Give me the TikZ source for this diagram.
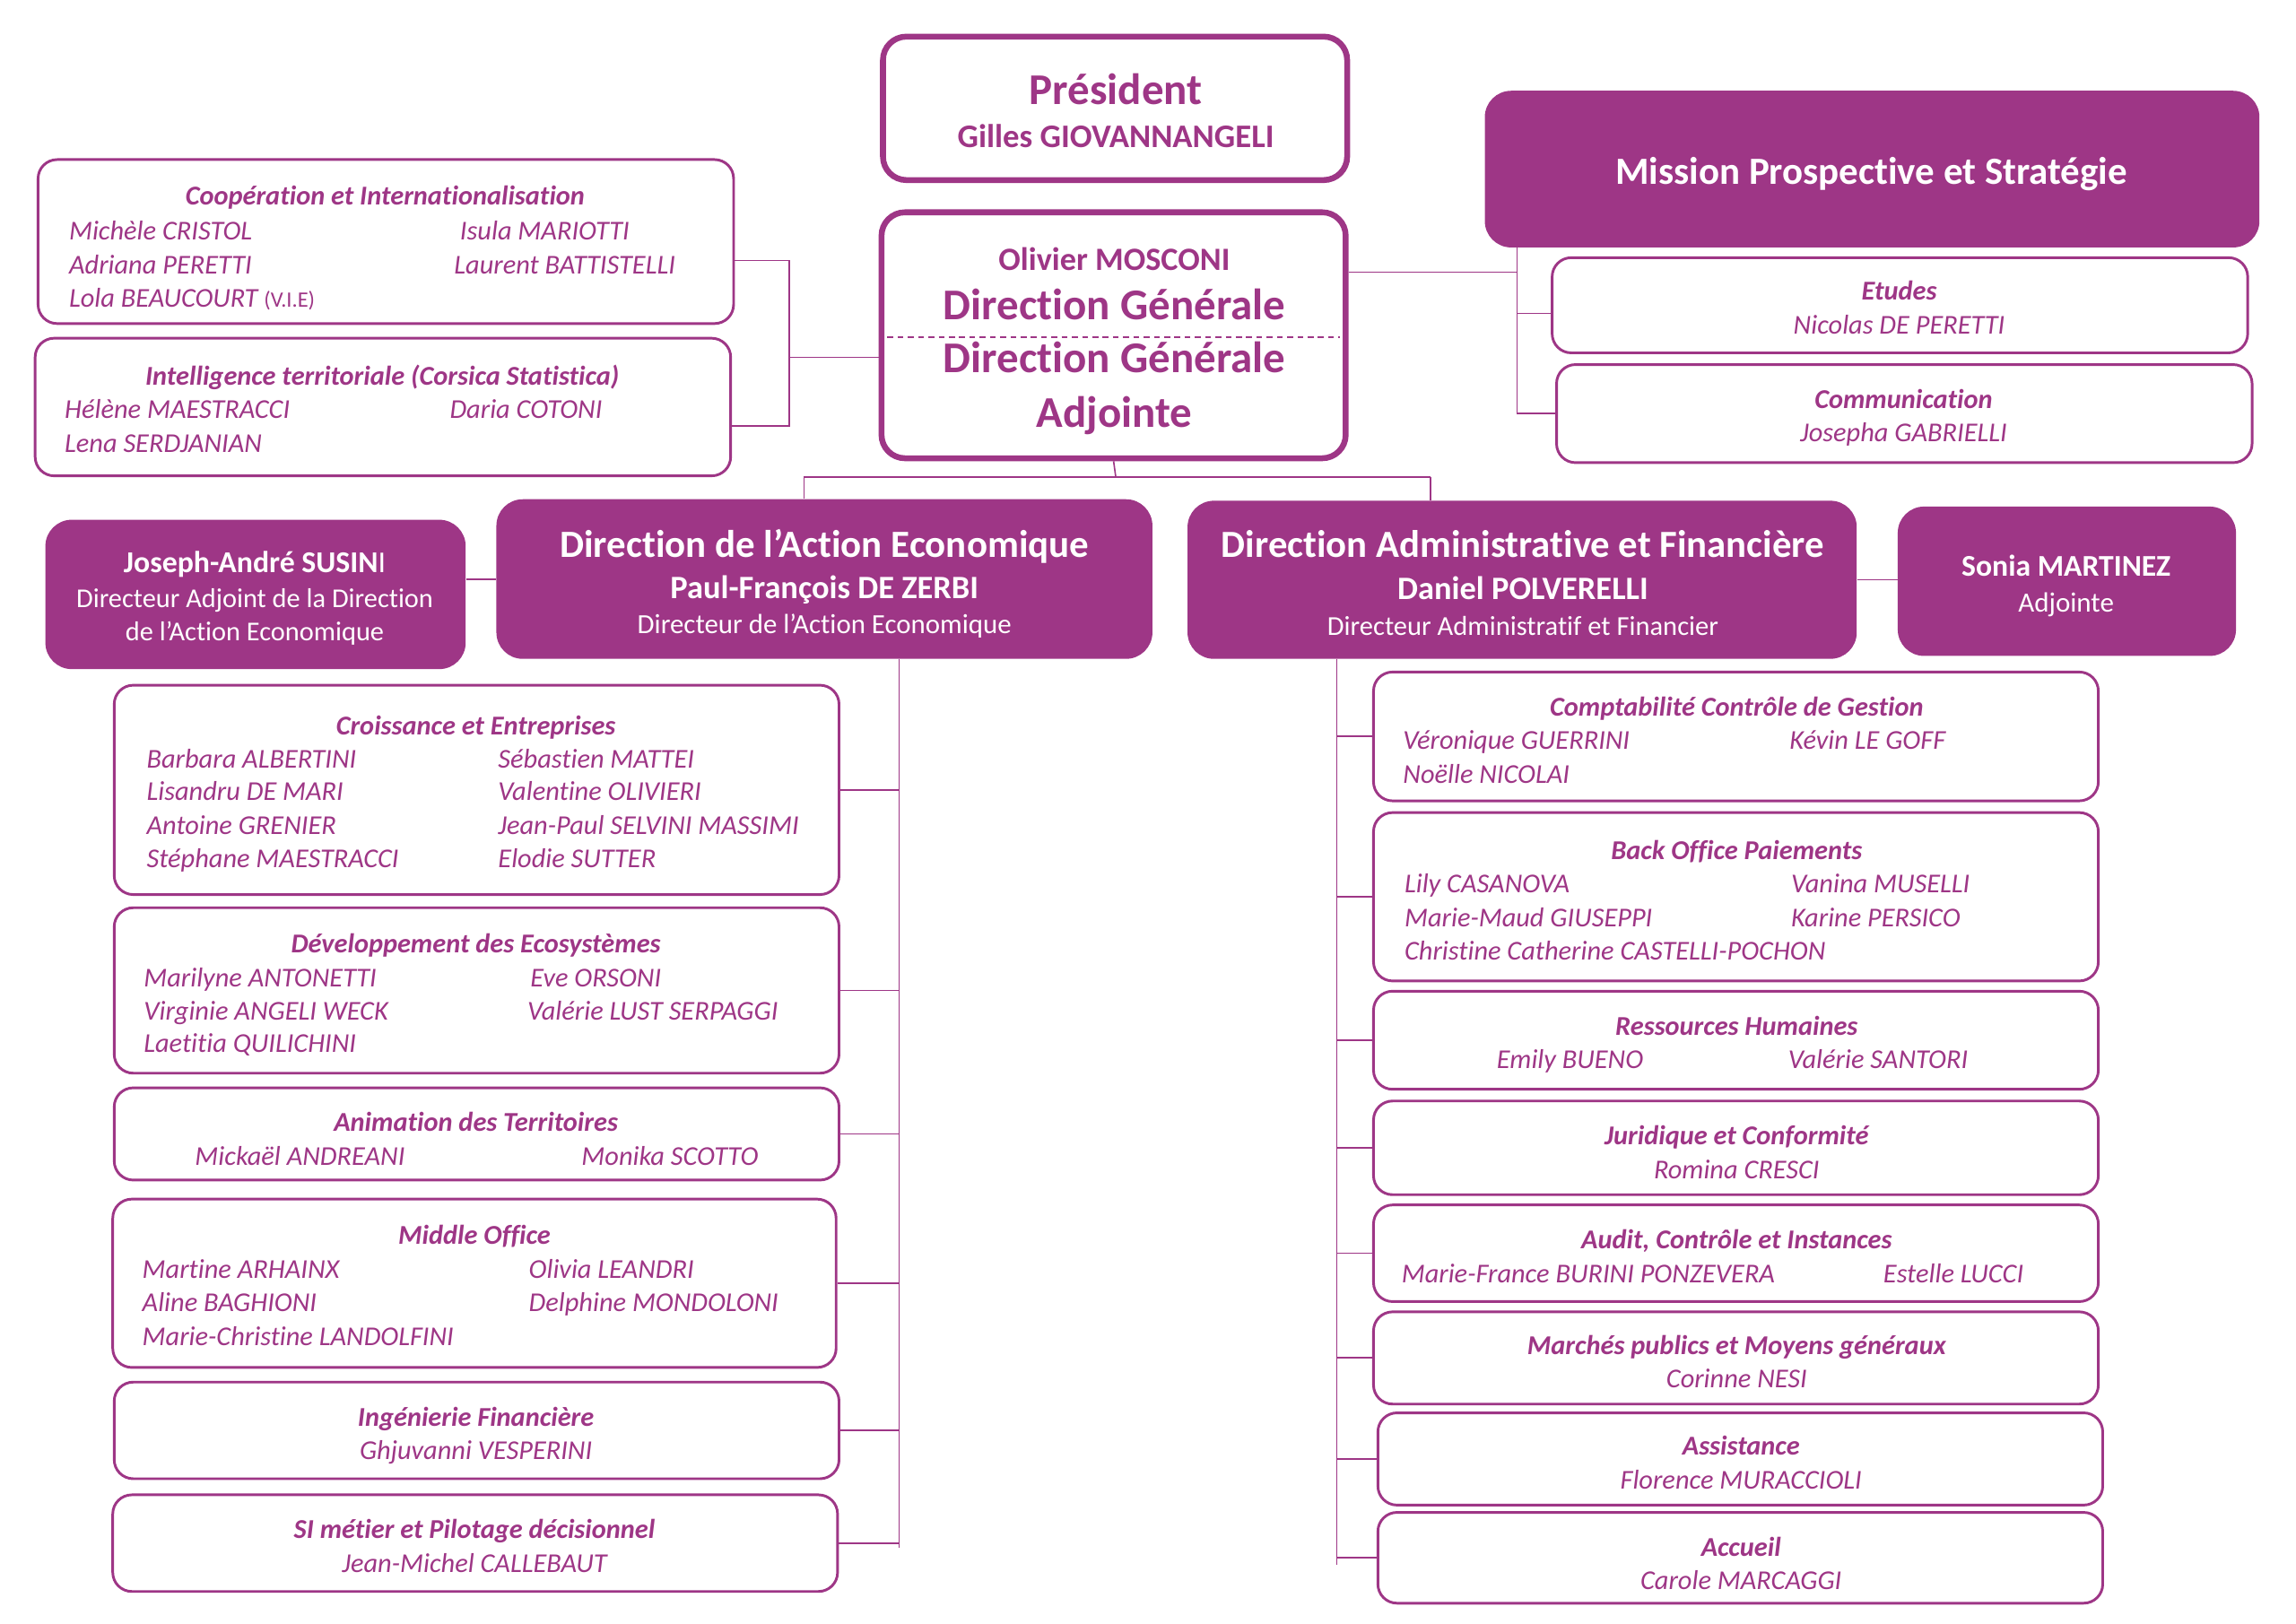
\documentclass[tikz,border=0pt]{standalone}
\usepackage{fontspec}
\setmainfont{Carlito}[Ligatures=NoCommon]
\usetikzlibrary{fit}
\definecolor{pur}{HTML}{9E3686}
\newcommand\myfs[1]{\fontsize{#1}{#1}\selectfont}
\begin{document}
\begin{tikzpicture}[x=1pt,y=-1pt,
  pbox/.style={draw=pur,line width=4pt,rounded corners=16pt,fill=white,inner sep=0pt},
  sbox/.style={draw=pur,line width=1.8pt,rounded corners=13pt,fill=white,inner sep=0pt},
  fbox/.style={fill=pur,rounded corners=18pt,inner sep=0pt},
  conn/.style={draw=pur,line width=1pt},
  ttl/.style={text=pur,font=\myfs{18.6}\bfseries\itshape,anchor=mid,inner sep=0pt,yshift=-4.5pt},
  nm/.style={text=pur,font=\myfs{18.6}\itshape,anchor=mid west,inner sep=0pt,yshift=-4.5pt},
  nmc/.style={text=pur,font=\myfs{18.6}\itshape,anchor=mid,inner sep=0pt,yshift=-4.5pt},
  wt/.style={text=white,anchor=mid,inner sep=0pt,font=\myfs{#1},yshift=-0.24*#1},
  wtb/.style={text=white,anchor=mid,inner sep=0pt,font=\myfs{#1}\bfseries,yshift=-0.24*#1},
  ptb/.style={text=pur,anchor=mid,inner sep=0pt,font=\myfs{#1}\bfseries,yshift=-0.24*#1}]
\useasboundingbox (0,0) rectangle (1568,1109);

% ---------- top ----------
\node[pbox,fit={(603,25)(920,123)}] (pres) {};
\node[ptb=30] (presT) at (762,62) {Président};
\node[ptb=22.5] (presN) at (762,93) {Gilles GIOVANNANGELI};

\node[pbox,fit={(602,145)(919,313)}] (dg) {};
\node[ptb=22.2] (dgN) at (761,177) {Olivier MOSCONI};
\node[ptb=30] (dgT1) at (761,209) {Direction Générale};
\coordinate (dsA) at (606,230);
\coordinate (dsB) at (915,230);
\draw[pur,line width=1.2pt,dash pattern=on 4pt off 3pt] (dsA) -- (dsB);
\node[ptb=30] (dgT2) at (761,245) {Direction Générale};
\node[ptb=30] (dgT3) at (761,282) {Adjointe};

% ---------- left group ----------
\node[sbox,fit={(26,109)(501,221)}] (coop) {};
\node[ttl] (coopT) at (263,133) {Coopération et Internationalisation};
\node[nm] (c1) at (47,157) {Michèle CRISTOL};
\node[nm] (c2) at (47,180) {Adriana PERETTI};
\node[nm] (c3) at (47,203) {Lola BEAUCOURT {\upshape\myfs{15}(V.I.E)}};
\node[nm] (c4) at (314,157) {Isula MARIOTTI};
\node[nm] (c5) at (310,180) {Laurent BATTISTELLI};

\node[sbox,fit={(24,231)(499,325)}] (intel) {};
\node[ttl] (intelT) at (261,256) {Intelligence territoriale (Corsica Statistica)};
\node[nm] (i1) at (44,279) {Hélène MAESTRACCI};
\node[nm] (i2) at (44,302) {Lena SERDJANIAN};
\node[nm] (i3) at (307,279) {Daria COTONI};

\coordinate (jlt) at (539,178);
\coordinate (jlb) at (539,291);
\coordinate (jl) at (539,244);
\draw[conn] (coop.east |- jlt) -- (jlt) -- (jlb) -- (intel.east |- jlb);
\draw[conn] (jl) -- (dg.west |- jl);

% ---------- right group ----------
\node[fbox,fit={(1014,62)(1543,169)}] (mps) {};
\node[wtb=26.3] (mpsT) at (1278,117) {Mission Prospective et Stratégie};

\node[sbox,fit={(1060,176)(1535,241)}] (etud) {};
\node[ttl] (etudT) at (1297,198) {Etudes};
\node[nmc] (e1) at (1297,221) {Nicolas DE PERETTI};

\node[sbox,fit={(1063,249)(1538,316)}] (comm) {};
\node[ttl] (commT) at (1300,272) {Communication};
\node[nmc] (m1) at (1300,295) {Josepha GABRIELLI};

\coordinate (jr) at (1036,186);
\coordinate (jre) at (1036,214);
\draw[conn] (dg.east |- jr) -- (jr);
\draw[conn] (jr |- mps.south) -- (jr |- comm.west) -- (comm.west);
\draw[conn] (jre) -- (etud.west |- jre);

% ---------- directions ----------
\node[fbox,fit={(339,341)(787,450)}] (dae) {};
\node[wtb=26.3] (daeT) at (563,372) {Direction de l’Action Economique};
\node[wtb=22.3] (daeN) at (563,401) {Paul-François DE ZERBI};
\node[wt=18.9] (daeF) at (563,426) {Directeur de l’Action Economique};

\node[fbox,fit={(31,355)(318,457)}] (sus) {};
\node[wt=20.7] (susN) at (174,384) {\textbf{Joseph-André SUSIN}I};
\node[wt=18.6] (susF1) at (174,408) {Directeur Adjoint de la Direction};
\node[wt=18.6] (susF2) at (174,431) {de l’Action Economique};

\node[fbox,fit={(811,342)(1268,450)}] (daf) {};
\node[wtb=26.2] (dafT) at (1040,372) {Direction Administrative et Financière};
\node[wtb=22.3] (dafN) at (1040,402) {Daniel POLVERELLI};
\node[wt=18.7] (dafF) at (1040,427) {Directeur Administratif et Financier};

\node[fbox,fit={(1296,346)(1527,448)}] (son) {};
\node[wtb=20.6] (sonN) at (1411,386) {Sonia MARTINEZ};
\node[wt=19] (sonF) at (1411,411) {Adjointe};

\coordinate (jc) at (762,326);
\coordinate (jcl) at (549,326);
\coordinate (jcr) at (977,326);
\draw[conn] (dg.south) -- (jc);
\draw[conn] (jcl) -- (jcr);
\draw[conn] (jcl) -- (jcl |- dae.north);
\draw[conn] (jcr) -- (jcr |- daf.north);
\draw[conn] (dae.west) -- (dae.west -| sus.east);
\draw[conn] (daf.east) -- (daf.east -| son.west);

% ---------- DAE children ----------
\node[sbox,fit={(78,468)(573,611)}] (cro) {};
\node[ttl] (croT) at (325,495) {Croissance et Entreprises};
\node[nm] at (100,518) {Barbara ALBERTINI};
\node[nm] at (100,540) {Lisandru DE MARI};
\node[nm] at (100,563) {Antoine GRENIER};
\node[nm] at (100,586) {Stéphane MAESTRACCI};
\node[nm] at (340,518) {Sébastien MATTEI};
\node[nm] at (340,540) {Valentine OLIVIERI};
\node[nm] at (340,563) {Jean-Paul SELVINI MASSIMI};
\node[nm] at (340,586) {Elodie SUTTER};

\node[sbox,fit={(78,620)(573,733)}] (dev) {};
\node[ttl] (devT) at (325,644) {Développement des Ecosystèmes};
\node[nm] at (98,667) {Marilyne ANTONETTI};
\node[nm] at (98,690) {Virginie ANGELI WECK};
\node[nm] at (98,712) {Laetitia QUILICHINI};
\node[nm] at (362,667) {Eve ORSONI};
\node[nm] at (360,690) {Valérie LUST SERPAGGI};

\node[sbox,fit={(78,743)(573,806)}] (ani) {};
\node[ttl] (aniT) at (325,766) {Animation des Territoires};
\node[nm] at (133,789) {Mickaël ANDREANI};
\node[nm] at (397,789) {Monika SCOTTO};

\node[sbox,fit={(77,819)(571,934)}] (mid) {};
\node[ttl] (midT) at (324,843) {Middle Office};
\node[nm] at (97,866) {Martine ARHAINX};
\node[nm] at (97,889) {Aline BAGHIONI};
\node[nm] at (97,912) {Marie-Christine LANDOLFINI};
\node[nm] at (361,866) {Olivia LEANDRI};
\node[nm] at (361,889) {Delphine MONDOLONI};

\node[sbox,fit={(78,944)(573,1010)}] (ing) {};
\node[ttl] (ingT) at (325,967) {Ingénierie Financière};
\node[nmc] at (325,990) {Ghjuvanni VESPERINI};

\node[sbox,fit={(77,1021)(572,1087)}] (sim) {};
\node[ttl] (simT) at (324,1044) {SI métier et Pilotage décisionnel};
\node[nmc] at (324,1067) {Jean-Michel CALLEBAUT};

\coordinate (sl) at (614,1057);
\draw[conn] (sl |- dae.south) -- (sl);
\foreach \b in {cro,dev,ani,mid,ing,sim}{\draw[conn] (\b.east) -- (\b.east -| sl);}

% ---------- DAF children ----------
\node[sbox,fit={(938,459)(1433,547)}] (cpt) {};
\node[ttl] (cptT) at (1186,482) {Comptabilité Contrôle de Gestion};
\node[nm] at (958,505) {Véronique GUERRINI};
\node[nm] at (958,528) {Noëlle NICOLAI};
\node[nm] at (1222,505) {Kévin LE GOFF};

\node[sbox,fit={(938,555)(1433,670)}] (bo) {};
\node[ttl] (boT) at (1186,580) {Back Office Paiements};
\node[nm] at (959,603) {Lily CASANOVA};
\node[nm] at (959,626) {Marie-Maud GIUSEPPI};
\node[nm] at (959,649) {Christine Catherine CASTELLI-POCHON};
\node[nm] at (1223,603) {Vanina MUSELLI};
\node[nm] at (1223,626) {Karine PERSICO};

\node[sbox,fit={(938,677)(1433,744)}] (rh) {};
\node[ttl] (rhT) at (1186,700) {Ressources Humaines};
\node[nm] at (1022,723) {Emily BUENO};
\node[nm] at (1221,723) {Valérie SANTORI};

\node[sbox,fit={(938,752)(1433,816)}] (jur) {};
\node[ttl] (jurT) at (1186,775) {Juridique et Conformité};
\node[nmc] at (1186,798) {Romina CRESCI};

\node[sbox,fit={(938,823)(1433,889)}] (aud) {};
\node[ttl] (audT) at (1186,846) {Audit, Contrôle et Instances};
\node[nm] at (957,869) {Marie-France BURINI PONZEVERA};
\node[nm] at (1286,869) {Estelle LUCCI};

\node[sbox,fit={(938,896)(1433,959)}] (mar) {};
\node[ttl] (marT) at (1186,918) {Marchés publics et Moyens généraux};
\node[nmc] at (1186,941) {Corinne NESI};

\node[sbox,fit={(941,965)(1436,1028)}] (ass) {};
\node[ttl] (assT) at (1189,987) {Assistance};
\node[nmc] at (1189,1010) {Florence MURACCIOLI};

\node[sbox,fit={(941,1033)(1436,1095)}] (acc) {};
\node[ttl] (accT) at (1189,1056) {Accueil};
\node[nmc] at (1189,1079) {Carole MARCAGGI};

\coordinate (sr) at (913,1069);
\draw[conn] (sr |- daf.south) -- (sr);
\foreach \b in {cpt,bo,rh,jur,aud,mar,ass,acc}{\draw[conn] (sr |- \b.west) -- (\b.west);}
\end{tikzpicture}
\end{document}
